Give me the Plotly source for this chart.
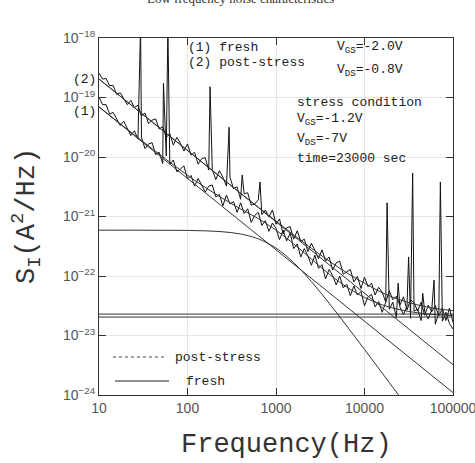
import plotly.graph_objects as go

# ---------------- data ----------------
# frequency grid of the measured spectra (Hz)
freq_grid = [10, 10.96, 12.02, 13.18, 14.45, 15.85, 17.38, 19.05, 20.89, 22.91,
             25.12, 27.54, 30.20, 33.11, 36.31, 39.81, 43.65, 47.86, 52.48, 57.54,
             63.10, 69.18, 75.86, 83.18, 91.20,
             100, 109.6, 120.2, 131.8, 144.5, 158.5, 173.8, 190.5, 208.9, 229.1,
             251.2, 275.4, 302.0, 331.1, 363.1, 398.1, 436.5, 478.6, 524.8, 575.4,
             631.0, 691.8, 758.6, 831.8, 912.0,
             1000, 1096, 1202, 1318, 1445, 1585, 1738, 1905, 2089, 2291,
             2512, 2754, 3020, 3311, 3631, 3981, 4365, 4786, 5248, 5754,
             6310, 6918, 7586, 8318, 9120,
             10000, 10960, 12020, 13180, 14450, 15850, 17380, 19050, 20890, 22910,
             25120, 27540, 30200, 33110, 36310, 39810, 43650, 47860, 52480, 57540,
             63100, 69180, 75860, 83180, 91200,
             100000]

# log10 of S_I (A^2/Hz), measured post-stress spectrum
post_log_S = [-18.59, -18.69, -18.68, -18.80, -18.80, -18.95, -18.92, -19.02, -19.12, -19.05,
              -19.17, -19.13, -19.31, -19.26, -19.44, -19.38, -19.36, -19.53, -19.49, -19.67,
              -19.61, -19.80, -19.67, -19.77, -19.90, -19.78, -19.97, -19.92, -20.12, -20.03,
              -20.01, -20.22, -20.21, -20.38, -20.23, -20.34, -20.49, -20.34, -20.53, -20.50,
              -20.71, -20.62, -20.60, -20.81, -20.79, -20.72, -20.97, -20.89, -21.01, -20.89,
              -21.13, -21.04, -21.29, -21.19, -21.17, -21.38, -21.24, -21.42, -21.38, -21.59,
              -21.45, -21.57, -21.71, -21.56, -21.75, -21.68, -21.90, -21.78, -21.75, -21.97,
              -21.93, -21.89, -22.10, -22.01, -22.21, -22.02, -22.18, -22.12, -22.32, -22.19,
              -22.27, -22.44, -22.25, -22.40, -22.34, -22.49, -22.35, -22.57, -22.40, -22.45,
              -22.59, -22.44, -22.66, -22.49, -22.60, -22.50, -22.67, -22.54, -22.75, -22.54,
              -22.78]
post_spike_f = [180, 295, 415, 660]
post_spike_log_S = [-18.82, -19.50, -20.30, -20.42]

# log10 of S_I (A^2/Hz), measured fresh spectrum
fresh_log_S = [-18.99, -19.12, -19.12, -19.28, -19.25, -19.35, -19.47, -19.40, -19.53, -19.64,
               -19.56, -19.70, -19.67, -19.86, -19.78, -19.76, -19.96, -19.92, -20.11, -19.98,
               -20.12, -20.05, -20.25, -20.20, -20.15, -20.37, -20.31, -20.49, -20.36, -20.47,
               -20.59, -20.49, -20.47, -20.67, -20.63, -20.82, -20.64, -20.79, -20.75, -20.93,
               -20.77, -20.95, -20.87, -21.10, -20.98, -20.93, -21.15, -21.07, -21.25, -21.11,
               -21.20, -21.39, -21.23, -21.41, -21.28, -21.54, -21.46, -21.68, -21.54, -21.66,
               -21.82, -21.65, -21.87, -21.81, -22.05, -21.89, -21.99, -22.15, -22.00, -22.20,
               -22.14, -22.33, -22.17, -22.32, -22.26, -22.50, -22.35, -22.31, -22.52, -22.43,
               -22.61, -22.44, -22.56, -22.44, -22.70, -22.52, -22.65, -22.51, -22.71, -22.59,
               -22.56, -22.75, -22.59, -22.72, -22.57, -22.81, -22.62, -22.76, -22.61, -22.80,
               -22.89]
fresh_spike_f = [29.5, 53.5, 60, 18000, 24000, 31500, 35000, 45500, 61000, 72000]
fresh_spike_log_S = [-17.8, -18.76, -17.8, -20.77, -22.12, -21.68, -20.27, -22.29, -22.07, -20.42]

# fitted model curves (log10 S), sampled every 0.2 decade
fit_f = [10, 15.85, 25.12, 39.81, 63.10, 100, 158.5, 251.2, 398.1, 631.0,
         1000, 1585, 2512, 3981, 6310, 10000, 15850, 25120, 39810, 63100, 100000]
post_total_log = [-18.69, -18.93, -19.17, -19.41, -19.65, -19.89, -20.13, -20.37, -20.61, -20.843,
                  -21.078, -21.309, -21.534, -21.748, -21.946, -22.122, -22.281, -22.40, -22.486,
                  -22.545, -22.583]
fresh_total_log = [-19.156, -19.394, -19.629, -19.861, -20.088, -20.306, -20.511, -20.699, -20.873,
                   -21.036, -21.229, -21.46, -21.716, -21.967, -22.187, -22.36, -22.485, -22.567,
                   -22.618, -22.648, -22.666]
lorentz_f = fit_f[:19]
lorentz_log = [-21.23, -21.23, -21.23, -21.231, -21.232, -21.234, -21.241, -21.257, -21.294, -21.376,
               -21.531, -21.776, -22.094, -22.457, -22.841, -23.234, -23.632, -24.031, -24.43]
line_f = [10, 100000]
post_1f_log = [-18.69, -23.49]
fresh_1f_log = [-19.16, -23.96]
post_white_log = [-22.64, -22.64]
fresh_white_log = [-22.69, -22.69]

y_tick_exp = [-24, -23, -22, -21, -20, -19, -18]
x_tick_vals = [10, 100, 1000, 10000, 100000]
x_tick_text = ["10", "100", "1000", "10000", "100000"]


def merge(fs, vs, sf, sv):
    pts = sorted(list(zip(fs, vs)) + list(zip(sf, sv)))
    return [p[0] for p in pts], [10 ** p[1] for p in pts]


def pw(v):
    return [10 ** e for e in v]


fig = go.Figure()
BLACK = "#111111"
FIT = "#333333"

pf, pv = merge(freq_grid, post_log_S, post_spike_f, post_spike_log_S)
ff, fv = merge(freq_grid, fresh_log_S, fresh_spike_f, fresh_spike_log_S)
fig.add_trace(go.Scatter(x=pf, y=pv, mode="lines", line=dict(color=BLACK, width=1)))
fig.add_trace(go.Scatter(x=ff, y=fv, mode="lines", line=dict(color=BLACK, width=1)))

for xs, ys, shape in [(fit_f, post_total_log, "spline"), (fit_f, fresh_total_log, "spline"),
                      (lorentz_f, lorentz_log, "spline"), (line_f, post_1f_log, "linear"),
                      (line_f, fresh_1f_log, "linear"), (line_f, post_white_log, "linear"),
                      (line_f, fresh_white_log, "linear")]:
    fig.add_trace(go.Scatter(x=xs, y=pw(ys), mode="lines", line=dict(color=FIT, width=1, shape=shape)))

L, R, T, B = 99, 22, 38, 68
W, H = 475, 463
pwid, phei = W - L - R, H - T - B


def px(x):
    return (x - L) / pwid


def py(y):
    return (H - B - y) / phei


MONO = "Liberation Mono"
ann = []
ann.append(dict(text="Low frequency noise characteristics", x=px(240), y=py(-1), xref="paper", yref="paper",
                showarrow=False, xanchor="center", yanchor="middle",
                font=dict(family="Liberation Serif", size=13, color="#333")))
ann.append(dict(text="Frequency(Hz)", x=px(286), y=py(445), xref="paper", yref="paper", showarrow=False,
                xanchor="center", yanchor="middle", font=dict(family=MONO, size=27, color="#333")))
ann.append(dict(text="S<sub>I</sub>(A<sup>2</sup>/Hz)", x=px(26), y=py(216), xref="paper", yref="paper",
                showarrow=False, textangle=-90, xanchor="center", yanchor="middle",
                font=dict(family=MONO, size=27, color="#333")))
inner = [("(1) fresh", 186, 47), ("(2) post-stress", 186, 63),
         ("V<sub>GS</sub>=-2.0V", 335, 47), ("V<sub>DS</sub>=-0.8V", 335, 70),
         ("stress condition", 295, 102), ("V<sub>GS</sub>=-1.2V", 295, 120),
         ("V<sub>DS</sub>=-7V", 295, 139), ("time=23000 sec", 295, 158),
         ("post-stress", 173, 357), ("fresh", 184, 381)]
for t, x, y in inner:
    ann.append(dict(text=t, x=px(x), y=py(y), xref="paper", yref="paper", showarrow=False,
                    xanchor="left", yanchor="middle", font=dict(family=MONO, size=13, color="#222")))
for t, y in [("(2)", 79), ("(1)", 111)]:
    ann.append(dict(text=t, x=px(98), y=py(y), xref="paper", yref="paper", showarrow=False,
                    xanchor="right", yanchor="middle", font=dict(family=MONO, size=13, color="#222")))

shapes = [dict(type="line", xref="paper", yref="paper", x0=px(113), x1=px(167), y0=py(357), y1=py(357),
               line=dict(color="#444", width=1, dash="dot")),
          dict(type="line", xref="paper", yref="paper", x0=px(115), x1=px(169), y0=py(381), y1=py(381),
               line=dict(color="#222", width=1))]

fig.update_layout(
    width=W, height=H, margin=dict(l=L, r=R, t=T, b=B, pad=0, autoexpand=False),
    paper_bgcolor="white", plot_bgcolor="white", showlegend=False,
    annotations=ann, shapes=shapes,
)
fig.update_xaxes(type="log", range=[1, 5], tickvals=x_tick_vals, ticktext=x_tick_text,
                 ticklabeloverflow="allow", automargin=False,
                 ticks="inside", ticklen=7, tickcolor="#333", mirror="ticks", showline=True,
                 linecolor="#333", linewidth=1, showgrid=True, gridcolor="#e6e6e6", gridwidth=1,
                 zeroline=False, tickfont=dict(family="Liberation Sans", size=14, color="#555"))
fig.update_yaxes(type="log", range=[-24, -18], tickvals=[10 ** e for e in y_tick_exp],
                 ticktext=["10<sup>\u2212%d</sup>" % (-e) for e in y_tick_exp],
                 ticklabeloverflow="allow", automargin=False,
                 ticks="inside", ticklen=7, tickcolor="#333", mirror="ticks", showline=True,
                 linecolor="#333", linewidth=1, showgrid=True, gridcolor="#e6e6e6", gridwidth=1,
                 zeroline=False, tickfont=dict(family="Liberation Sans", size=14, color="#555"))

fig.write_html("out.html")
